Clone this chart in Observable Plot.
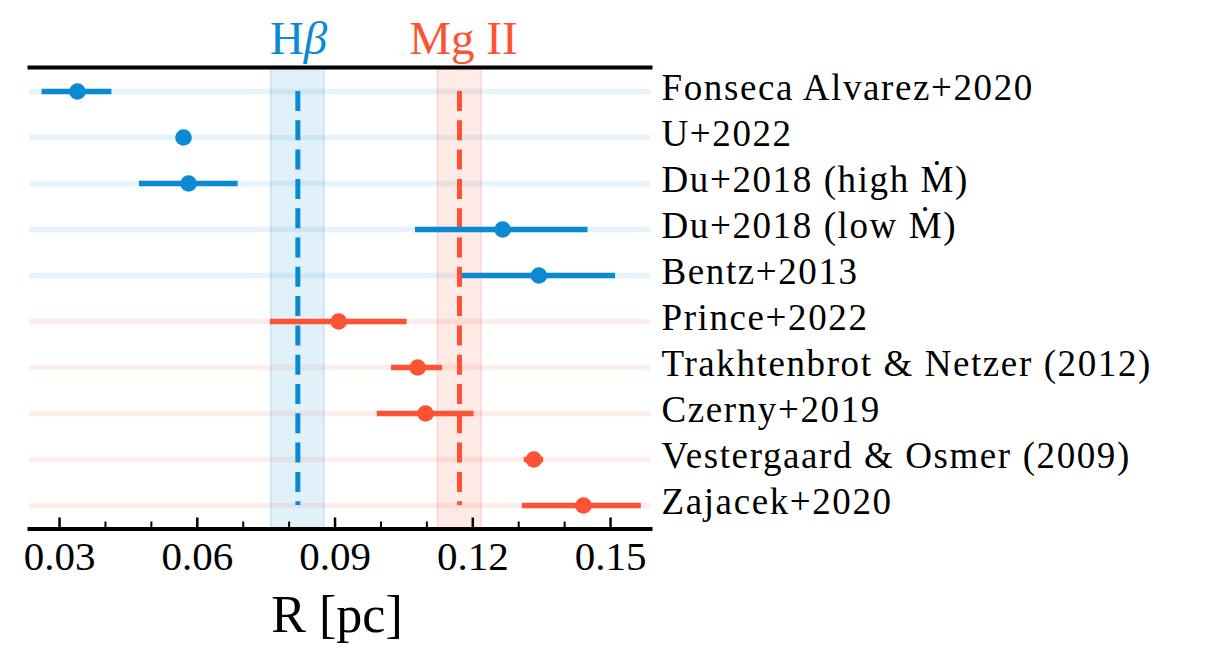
<!DOCTYPE html>
<html><head><meta charset="utf-8">
<script src="https://cdn.jsdelivr.net/npm/d3@7"></script>
<script src="https://cdn.jsdelivr.net/npm/@observablehq/plot@0.6"></script>
<style>body{margin:0;background:#fff}</style>
</head><body><div id="chart"></div>
<script>
const labels = [
  "Fonseca Alvarez+2020",
  "U+2022",
  "Du+2018 (high \u1E40)",
  "Du+2018 (low \u1E40)",
  "Bentz+2013",
  "Prince+2022",
  "Trakhtenbrot & Netzer (2012)",
  "Czerny+2019",
  "Vestergaard & Osmer (2009)",
  "Zajacek+2020"
];
const values = [0.0339, 0.0570, 0.0581, 0.1265, 0.1344, 0.0908, 0.1080, 0.1097, 0.1333, 0.1441];
const lower  = [0.0262, 0.0570, 0.0474, 0.1075, 0.1177, 0.0759, 0.1023, 0.0992, 0.1312, 0.1308];
const upper  = [0.0414, 0.0570, 0.0689, 0.1451, 0.1511, 0.1057, 0.1134, 0.1203, 0.1354, 0.1567];
const lines  = ["Hβ","Hβ","Hβ","Hβ","Hβ","Mg II","Mg II","Mg II","Mg II","Mg II"];

const lineNames = ["Hβ", "Mg II"];
const lineMeans = [0.0819, 0.1171];
const lineLo    = [0.0761, 0.1124];
const lineHi    = [0.0877, 0.1219];

const majorTicks = [0.03, 0.06, 0.09, 0.12, 0.15];
const minorTicks = [0.04, 0.05, 0.07, 0.08, 0.10, 0.11, 0.13, 0.14];
const xLabel = "R [pc]";

const palette = {"Hβ": "#0a8ad2", "Mg II": "#fd5234"};

const rows = labels.map((label, i) => ({label, value: values[i], lo: lower[i], hi: upper[i], line: lines[i]}));
const bands = lineNames.map((name, i) => ({name, mean: lineMeans[i], lo: lineLo[i], hi: lineHi[i]}));
const col = d => palette[d.line ?? d.name];

const chart = Plot.plot({
  width: 1217,
  height: 664,
  marginLeft: 29,
  marginRight: 567,
  marginTop: 67,
  marginBottom: 135.5,
  style: {fontFamily: "Liberation Serif", background: "white", color: "black"},
  x: {domain: [0.02346, 0.1587], axis: null},
  y: {type: "point", domain: labels, padding: 0.44, axis: null},
  color: {type: "identity"},
  marks: [
    Plot.ruleY(rows, {y: "label", stroke: col, strokeOpacity: 0.1, strokeWidth: 5.5}),
    Plot.rect(bands, {x1: "lo", x2: "hi", fill: col, fillOpacity: 0.12, stroke: col, strokeOpacity: 0.18, strokeWidth: 1.5}),
    Plot.ruleX(bands, {x: "mean", y1: () => labels[0], y2: () => labels[labels.length - 1], stroke: col, strokeWidth: 5, strokeDasharray: "20,9.3"}),
    Plot.ruleY(rows, {y: "label", x1: "lo", x2: "hi", stroke: col, strokeWidth: 5.3}),
    Plot.dot(rows, {x: "value", y: "label", r: 8.3, fill: col}),
    Plot.frame({anchor: "top", strokeWidth: 4}),
    Plot.frame({anchor: "bottom", strokeWidth: 4}),
    Plot.axisX(majorTicks, {tickSize: 11, dy: -11, strokeWidth: 2.5, tickFormat: () => "", label: null}),
    Plot.axisX(minorTicks, {tickSize: 7, dy: -7, strokeWidth: 2, tickFormat: () => "", label: null}),
    Plot.axisX(majorTicks, {tickSize: 0, tickPadding: 11.5, fontSize: 41, tickFormat: d3.format(".2f"), label: null}),
    Plot.axisY({anchor: "right", tickSize: 0, tickPadding: 11, fontSize: 37, dy: -3, label: null}),
    Plot.text([bands[0]], {x: "mean", text: () => "H", frameAnchor: "top", lineAnchor: "middle", textAnchor: "end", dx: 6, dy: -29, fill: col, fontSize: 47}),
    Plot.text([bands[0]], {x: "mean", text: () => "β", frameAnchor: "top", lineAnchor: "middle", textAnchor: "start", dx: 6, dy: -29, fill: col, fontSize: 47, fontStyle: "italic"}),
    Plot.text([bands[1]], {x: "mean", text: "name", frameAnchor: "top", lineAnchor: "middle", dx: 4, dy: -29, fill: col, fontSize: 47}),
    Plot.text([xLabel], {text: d => d, frameAnchor: "bottom", lineAnchor: "middle", dx: -3, dy: 86, fontSize: 52})
  ]
});

d3.select(chart).selectAll('g[aria-label="y-axis tick label"] text').style("letter-spacing", "1.6px");
document.getElementById("chart").appendChild(chart);
</script>
</body></html>
